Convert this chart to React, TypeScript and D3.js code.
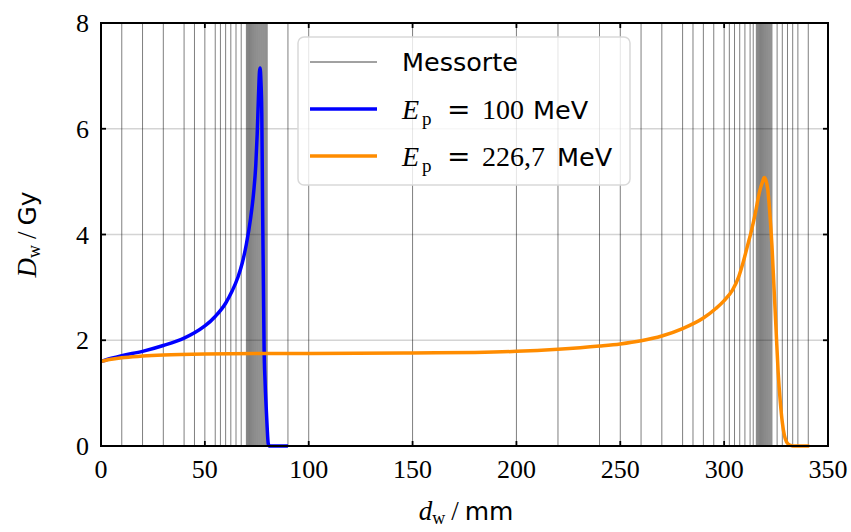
import * as d3 from "d3";

// depth (mm) and dose (Gy)
const depth100 = [0, 5, 10, 20, 30, 40, 45, 50, 55, 60, 63, 66, 68, 70, 72, 73.5, 74.5, 75.2, 75.8, 76.3, 76.6, 77, 77.4, 77.8, 78.2, 78.5, 79, 79.5, 80, 80.5, 81, 90];
const dose100 = [1.6, 1.66, 1.71, 1.79, 1.9, 2.04, 2.14, 2.27, 2.45, 2.7, 2.92, 3.2, 3.46, 3.82, 4.3, 4.8, 5.3, 5.9, 6.6, 7.08, 7.15, 6.9, 6.3, 4.5, 3.0, 1.9, 1.2, 0.75, 0.35, 0.05, 0, 0];

const depth227 = [0, 5, 10, 20, 30, 50, 80, 100, 150, 180, 200, 220, 240, 250, 260, 270, 280, 290, 296, 300, 304, 307, 309, 311, 313, 315, 317, 318.5, 319.3, 320, 321, 322, 323, 324, 325, 326, 327, 328, 329, 330, 331, 332, 333, 341];
const dose227 = [1.6, 1.64, 1.67, 1.7, 1.72, 1.74, 1.75, 1.75, 1.76, 1.77, 1.79, 1.83, 1.89, 1.93, 1.99, 2.08, 2.22, 2.42, 2.6, 2.75, 2.95, 3.2, 3.45, 3.75, 4.05, 4.4, 4.8, 5.0, 5.08, 5.04, 4.85, 4.4, 3.8, 3.0, 2.2, 1.4, 0.85, 0.45, 0.2, 0.08, 0.03, 0.01, 0, 0];

// measurement positions (mm)
const messorte = [
  10, 20, 30, 40, 45, 50, 55, 57.5, 60, 62.5, 65, 67.5,
  70, 70.5, 71, 71.5, 72, 72.5, 73, 73.5, 74, 74.5, 75, 75.5, 76, 76.5, 77, 77.5, 78, 78.5, 79, 79.5, 80,
  90, 100, 150, 200, 220, 240, 250, 260, 270, 280, 285, 290, 295,
  300, 302.5, 305, 307.5, 310, 312.5, 314,
  315.5, 316, 316.5, 317, 317.5, 318, 318.5, 319, 319.5, 320, 320.5, 321, 321.5, 322, 322.5, 323,
  325.5, 328, 330.5, 333, 335.5, 340.5,
];

const xTicks = [0, 50, 100, 150, 200, 250, 300, 350];
const yTicks = [0, 2, 4, 6, 8];
const yGrid = [2, 4, 6];

const W = 851;
const H = 532;
const m = { left: 101, right: 23, top: 23, bottom: 86 };

const serif = "'Liberation Serif', 'DejaVu Serif', serif";
const sans = "'DejaVu Sans', 'Liberation Sans', sans-serif";

export default function App() {
  const x = d3.scaleLinear().domain([0, 350]).range([m.left, W - m.right]);
  const y = d3.scaleLinear().domain([0, 8]).range([H - m.bottom, m.top]);

  const line = d3
    .line<[number, number]>()
    .x((d) => x(d[0]))
    .y((d) => y(d[1]))
    .curve(d3.curveMonotoneX);

  const pts100 = depth100.map((d, i) => [d, dose100[i]] as [number, number]);
  const pts227 = depth227.map((d, i) => [d, dose227[i]] as [number, number]);

  const [x0, x1] = x.range();
  const [yb, yt] = y.range();
  const tick = 5;

  const legend = [
    { kind: "mess", color: "#444", width: 1 },
    { kind: "e100", color: "#0000ff", width: 3.5 },
    { kind: "e227", color: "#ff8c00", width: 3.5 },
  ];

  const label = (kind: string, ly: number) => {
    if (kind === "mess")
      return (
        <text x={402} y={ly + 9} fontSize={25.5} fontFamily={sans}>
          Messorte
        </text>
      );
    const val = kind === "e100" ? "100" : "226,7";
    const mev = kind === "e100" ? 533 : 557;
    return (
      <g>
        <text x={402} y={ly + 10} fontSize={28} fontFamily={serif} fontStyle="italic">E</text>
        <text x={422} y={ly + 16} fontSize={19} fontFamily={serif}>p</text>
        <text x={447} y={ly + 10} fontSize={28} fontFamily="'DejaVu Serif', serif">=</text>
        <text x={482} y={ly + 10} fontSize={28} fontFamily={serif}>{val}</text>
        <text x={mev} y={ly + 10} fontSize={25.5} fontFamily={sans}>MeV</text>
      </g>
    );
  };

  return (
    <div style={{ position: "absolute", left: 0, top: 0 }}>
      <svg width={W} height={H} style={{ display: "block", background: "#fff" }}>
        {/* horizontal grid */}
        {yGrid.map((v) => (
          <line key={`g${v}`} x1={x0} x2={x1} y1={y(v)} y2={y(v)} stroke="#d4d4d4" strokeWidth={1.5} />
        ))}

        {/* measurement positions */}
        {messorte.map((v, i) => (
          <line key={`m${i}`} x1={x(v)} x2={x(v)} y1={yb} y2={yt} stroke="#000" strokeOpacity={0.5} strokeWidth={1} />
        ))}

        <path d={line(pts100) ?? ""} fill="none" stroke="#0000ff" strokeWidth={3.5} strokeLinejoin="round" />
        <path d={line(pts227) ?? ""} fill="none" stroke="#ff8c00" strokeWidth={3.5} strokeLinejoin="round" />

        {/* legend */}
        <g>
          <rect x={298} y={37} width={332} height={148} rx={6} fill="#fff" fillOpacity={0.8} stroke="#d9d9d9" strokeWidth={1.5} />
          {legend.map((l, i) => {
            const ly = 62 + i * 47;
            return (
              <g key={l.kind}>
                <line x1={310} x2={377} y1={ly} y2={ly} stroke={l.color} strokeWidth={l.width} />
                {label(l.kind, ly)}
              </g>
            );
          })}
        </g>

        {/* frame */}
        <rect x={x0} y={yt} width={x1 - x0} height={yb - yt} fill="none" stroke="#000" strokeWidth={2} />

        {/* ticks (inward, all sides) */}
        {xTicks.map((v) => (
          <g key={`xt${v}`}>
            <line x1={x(v)} x2={x(v)} y1={yb} y2={yb - tick} stroke="#000" strokeWidth={1.8} />
            <line x1={x(v)} x2={x(v)} y1={yt} y2={yt + tick} stroke="#000" strokeWidth={1.8} />
            <text x={x(v)} y={yb + 32} textAnchor="middle" fontFamily={serif} fontSize={26}>
              {v}
            </text>
          </g>
        ))}
        {yTicks.map((v) => (
          <g key={`yt${v}`}>
            <line x1={x0} x2={x0 + tick} y1={y(v)} y2={y(v)} stroke="#000" strokeWidth={1.8} />
            <line x1={x1} x2={x1 - tick} y1={y(v)} y2={y(v)} stroke="#000" strokeWidth={1.8} />
            <text x={x0 - 12} y={y(v) + 9} textAnchor="end" fontFamily={serif} fontSize={26}>
              {v}
            </text>
          </g>
        ))}

        {/* axis labels */}
        <text x={466} y={520} textAnchor="middle" fontSize={27}>
          <tspan fontFamily={serif} fontStyle="italic">d</tspan>
          <tspan fontFamily={serif} fontSize={18} dy={4}>w</tspan>
          <tspan fontFamily={serif} dy={-4} dx={6}>/</tspan>
          <tspan fontFamily={sans} fontSize={25} dx={6}>mm</tspan>
        </text>
        <text transform={`translate(36, ${(yt + yb) / 2}) rotate(-90)`} textAnchor="middle" fontSize={27}>
          <tspan fontFamily={serif} fontStyle="italic">D</tspan>
          <tspan fontFamily={serif} fontSize={18} dy={4}>w</tspan>
          <tspan fontFamily={serif} dy={-4} dx={6}>/</tspan>
          <tspan fontFamily={sans} fontSize={25} dx={6}>Gy</tspan>
        </text>
      </svg>
    </div>
  );
}
